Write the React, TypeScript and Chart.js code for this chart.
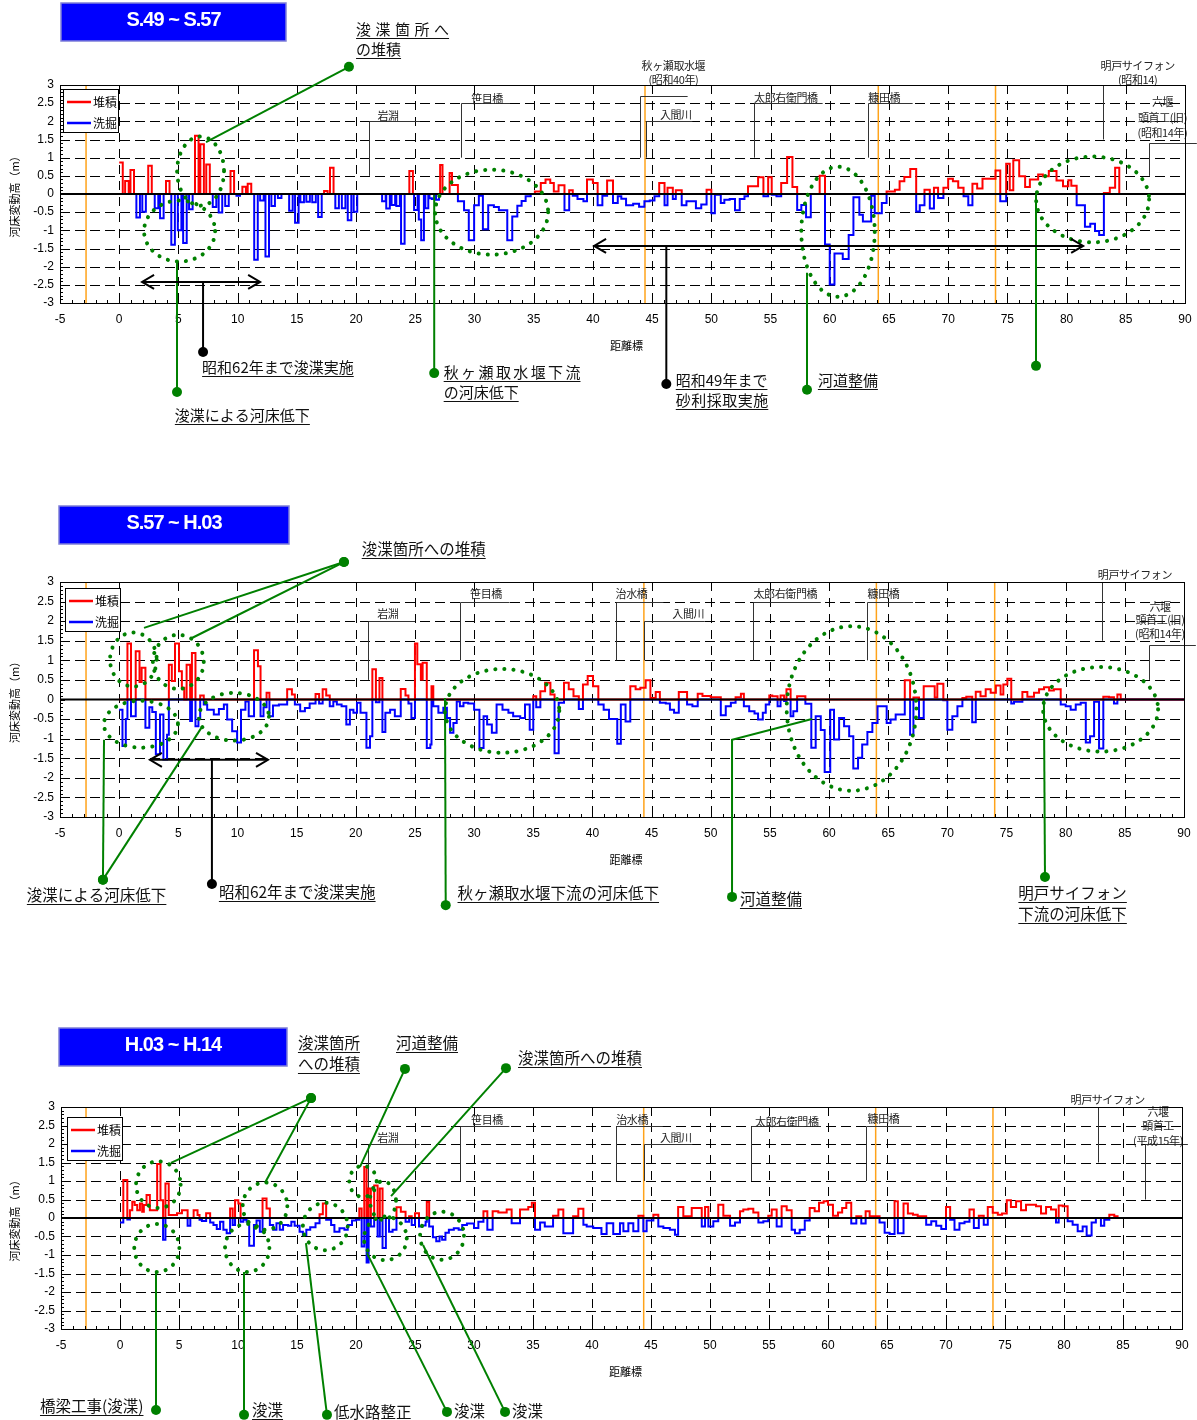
import React, { useEffect, useRef } from 'react';
import { Chart, registerables } from 'chart.js';

Chart.register(...registerables);

// ---------- axis / labels ----------
const X_TICKS = [-5, 0, 5, 10, 15, 20, 25, 30, 35, 40, 45, 50, 55, 60, 65, 70, 75, 80, 85, 90];
const Y_TICKS = [3, 2.5, 2, 1.5, 1, 0.5, 0, -0.5, -1, -1.5, -2, -2.5, -3];
const SERIES_NAMES = ['堆積', '洗掘'];
const PERIODS = ['S.49 ~ S.57', 'S.57 ~ H.03', 'H.03 ~ H.14'];
const X_TITLE = '距離標';
const Y_TITLE = '河床変動高（m）';

// ---------- Panel 1 (S.49 ~ S.57) : discrete bars 0-25 km ----------
const p1BarKm = [
  0.0, 0.5, 0.95, 1.45, 1.95, 2.45, 3.0, 3.45, 3.95, 4.4,
  4.95, 5.4, 5.9, 6.4, 6.85, 7.35, 7.9, 8.4, 8.95, 9.4,
  9.9, 10.4, 10.85, 11.4, 11.9, 12.35, 12.85, 13.4, 14.35, 14.85,
  15.3, 15.8, 16.3, 16.8, 17.3, 17.8, 18.25, 18.8, 19.3, 19.8,
  22.2, 22.55, 23.0, 23.4, 23.8, 24.5, 24.9,
];
const p1BarDz = [
  0.87, 0.36, 0.66, -0.65, -0.49, 0.78, -0.39, -0.67, 0.36, -1.4,
  -1.0, -1.35, -0.42, 1.6, 1.37, 0.81, -0.36, -0.51, -0.33, 0.63,
  -0.05, 0.2, 0.28, -1.81, -0.18, -1.72, -0.33, -0.11, -0.46, -0.79,
  -0.23, -0.21, -0.23, -0.63, 0.08, 0.72, -0.39, -0.39, -0.72, -0.49,
  -0.2, -0.4, -0.3, -0.33, -1.37, 0.63, -0.44,
];
// Panel 1 continuous profile (each value holds until the next km)
const p1Km = [
  25.3, 25.5, 25.73, 25.85, 26.1, 26.2, 26.4, 26.6, 26.75, 27.0,
  27.1, 27.3, 27.9, 28.1, 28.6, 29.12, 29.52, 29.97, 30.37, 30.71,
  31.16, 31.64, 32.06, 32.77, 33.19, 33.62, 33.98, 34.32, 34.75, 35.1,
  35.6, 36.0, 36.4, 36.7, 37.1, 37.6, 38.0, 38.3, 38.7, 39.2,
  39.5, 40.0, 40.4, 40.8, 41.2, 41.7, 42.1, 42.4, 42.8, 43.4,
  43.9, 44.35, 44.8, 45.2, 45.6, 46.05, 46.3, 46.75, 47.0, 47.5,
  47.9, 48.7, 49.15, 49.6, 50.0, 50.3, 50.8, 51.1, 51.55, 52.0,
  52.4, 52.8, 53.1, 53.95, 54.4, 54.8, 55.1, 55.5, 55.9, 56.4,
  56.85, 57.25, 57.6, 58.0, 58.4, 59.15, 59.6, 60.0, 60.4, 61.1,
  61.6, 62.0, 62.5, 62.8, 63.5, 63.8, 64.4, 64.8, 65.5, 65.9,
  66.3, 66.8, 67.3, 67.6, 68.0, 68.45, 68.8, 69.15, 69.6, 70.0,
  70.4, 70.85, 71.3, 71.7, 72.05, 72.45, 72.9, 74.0, 74.4, 74.9,
  75.2, 75.5, 76.0, 76.5, 76.9, 77.6, 78.0, 78.5, 79.15, 79.7,
  80.15, 80.4, 80.85, 81.55, 82.0, 82.4, 82.75, 83.15, 83.65, 84.1,
  84.45,
];
const p1Dz = [
  -0.7, -1.27, 0, -0.39, 0, -0.12, -0.14, 0, -0.16, 0,
  0.8, 0, 0.58, 0.25, -0.2, -0.45, -1.27, -0.31, -0.05, -0.97,
  -0.31, -0.36, -0.45, -1.27, -0.62, -0.32, -0.19, -0.06, 0, 0.07,
  0.3, 0.4, 0.3, 0.07, 0.24, -0.45, 0.1, -0.05, -0.14, -0.2,
  0.4, 0.3, -0.31, -0.05, 0.37, -0.25, -0.06, -0.13, -0.31, -0.27,
  -0.35, -0.2, -0.18, -0.06, 0.3, -0.31, 0.17, -0.14, 0.1, -0.31,
  -0.2, -0.39, -0.29, 0.12, -0.53, -0.02, -0.25, -0.16, -0.14, -0.45,
  -0.14, -0.06, 0.21, 0.46, -0.06, 0.46, -0.02, -0.06, 0.3, 1.02,
  0.19, -0.44, -0.3, -0.64, 0, 0.5, -1.39, -2.49, -1.64, -1.79,
  -1.13, -0.09, -0.57, -0.76, -0.05, -0.53, -0.25, 0.07, 0.12, 0.35,
  0.47, 0.69, -0.48, -0.31, 0.12, -0.4, 0.17, -0.11, 0.17, 0.42,
  0.35, 0.17, -0.06, -0.31, 0.28, 0.15, 0.42, 0.65, -0.2, 0.83,
  0.1, 0.93, 0.49, 0.19, 0.4, 0.54, 0.49, 0.63, 0.37, 0.21,
  0.38, 0.23, -0.31, -0.9, -0.82, -1.02, -1.13, 0.03, 0.17, 0.72,
  0,
];

// ---------- Panel 2 (S.57 ~ H.03) ----------
const p2Km = [
  0.0, 0.28, 0.56, 0.7, 1.0, 1.4, 1.72, 1.9, 2.22, 2.55,
  2.8, 3.1, 3.45, 3.74, 4.05, 4.2, 4.45, 4.72, 5.06, 5.3,
  5.5, 5.7, 6.0, 6.15, 6.45, 6.7, 6.85, 7.15, 7.44, 8.0,
  8.43, 8.85, 9.13, 9.55, 9.97, 10.3, 10.67, 10.95, 11.4, 11.73,
  11.95, 12.2, 12.46, 12.7, 13.0, 13.5, 14.2, 14.6, 14.85, 15.3,
  15.7, 16.1, 16.6, 16.9, 17.2, 17.5, 17.8, 18.1, 18.4, 18.8,
  19.2, 19.5, 19.8, 20.1, 20.4, 20.9, 21.2, 21.4, 21.7, 22.0,
  22.25, 22.5, 22.9, 23.3, 23.8, 24.2, 24.45, 24.7, 25.0, 25.2,
  25.5, 25.65, 26.0, 26.3, 26.4, 26.55, 26.98, 27.4, 27.7, 27.97,
  28.25, 28.53, 28.8, 29.1, 29.5, 30.0, 30.45, 30.8, 31.1, 31.5,
  31.9, 32.4, 32.9, 33.3, 33.9, 34.3, 34.7, 35.0, 35.25, 35.6,
  36.0, 36.45, 36.8, 37.15, 37.6, 38.0, 38.4, 38.85, 39.2, 39.6,
  40.05, 40.5, 40.95, 41.4, 42.1, 42.4, 42.8, 43.2, 43.65, 44.05,
  44.5, 44.9, 45.35, 45.7, 46.2, 46.55, 46.9, 47.3, 48.0, 48.45,
  48.9, 49.3, 50.0, 50.85, 51.27, 51.7, 52.1, 52.55, 52.8, 53.25,
  53.7, 54.0, 54.4, 54.65, 54.95, 55.2, 55.65, 55.9, 56.2, 56.4,
  56.75, 56.98, 57.3, 58.0, 58.5, 58.87, 59.3, 59.63, 60.1, 60.42,
  60.85, 61.27, 61.7, 62.05, 62.45, 62.8, 63.24, 63.66, 64.1, 64.87,
  65.2, 65.63, 66.4, 66.85, 67.13, 67.6, 68.0, 68.93, 69.15, 69.66,
  70.0, 70.42, 70.85, 71.27, 71.6, 72.1, 72.4, 72.8, 73.24, 73.66,
  74.1, 74.5, 74.73, 75.07, 75.4, 75.63, 76.34, 76.76, 77.32, 77.75,
  78.17, 78.6, 79.0, 79.58, 80.0, 80.42, 80.85, 81.27, 81.7, 82.06,
  82.4, 82.82, 83.18, 83.66, 84.08, 84.37, 84.65,
];
const p2Dz = [
  -0.26, -1.19, -0.5, 1.43, -0.43, 1.23, 0.45, 0.81, -0.72, -0.2,
  -0.32, -1.4, -0.38, -1.53, -0.9, 0.89, 0.47, 1.43, 0.72, 0.3,
  0, 0.89, -0.55, 1.19, -0.68, -0.47, 0.1, -0.13, -0.26, -0.38,
  -0.24, -0.13, -0.51, -0.81, -1.1, -0.26, -0.05, -0.43, 1.26, 0.85,
  -0.43, -0.2, 0.17, -0.43, -0.15, -0.13, 0.26, 0.13, -0.13, -0.3,
  -0.22, -0.1, 0.14, -0.1, 0.26, 0.1, -0.17, -0.05, -0.13, -0.17,
  -0.64, -0.26, -0.34, -0.08, -0.34, -1.23, -0.94, 0.77, -0.07, 0.55,
  -0.83, -0.34, -0.26, -0.43, 0.27, 0.1, -0.1, -0.47, 1.43, 0.9,
  0.51, 0.94, -1.24, -1.15, 0.34, -0.17, -0.34, -0.21, -0.47, -0.85,
  -0.6, -0.05, -0.17, -0.08, -0.1, -0.26, -1.24, -0.43, -0.64, -0.85,
  -0.13, -0.26, -0.34, -0.43, -0.47, -0.13, -0.77, 0.08, -0.2, 0.21,
  0.43, 0.13, -1.37, -0.08, 0.43, 0.26, 0.08, -0.24, 0.38, 0.6,
  0.34, -0.13, -0.26, -0.5, -1.13, -0.13, -0.56, 0.34, 0.26, 0.3,
  0.49, 0.04, 0.19, -0.08, -0.1, -0.26, -0.34, 0.19, -0.13, -0.17,
  0.15, 0.09, 0.06, -0.4, -0.17, -0.08, 0.06, 0.15, -0.17, -0.3,
  -0.36, -0.51, -0.34, -0.13, 0.1, 0.08, -0.17, 0.1, -0.04, 0.26,
  -0.43, -0.3, 0.08, -0.11, -1.23, -0.43, -0.78, -1.85, -0.26, -1.02,
  -0.47, -0.68, -0.94, -1.76, -1.49, -1.15, -0.83, -0.6, -0.17, -0.6,
  -0.51, -0.38, 0.49, -0.9, 0.05, -0.47, 0.34, 0.05, 0.4, -0.02,
  -0.77, -0.43, -0.17, 0.04, 0.07, -0.58, 0.2, 0.08, 0.26, 0.17,
  0.36, 0.13, 0.38, 0.53, -0.1, -0.06, 0.19, 0.07, 0.17, 0.26,
  0.31, 0.23, 0.26, -0.13, -0.17, -0.26, -0.13, -0.08, -1.1, -0.94,
  -0.06, -1.25, 0.07, 0.06, -0.1, 0.13, 0,
];

// ---------- Panel 3 (H.03 ~ H.14) ----------
const p3Km = [
  0.0, 0.28, 0.62, 0.84, 1.04, 1.24, 1.46, 1.69, 1.88, 2.02,
  2.25, 2.53, 3.15, 3.43, 3.65, 3.85, 4.13, 4.83, 5.25, 5.73,
  5.96, 6.24, 6.57, 6.74, 6.94, 7.3, 7.64, 7.92, 8.2, 8.48,
  8.76, 9.04, 9.33, 9.55, 9.75, 10.03, 10.22, 10.45, 10.73, 10.95,
  11.35, 11.57, 11.85, 12.08, 12.42, 12.7, 12.98, 13.26, 13.54, 13.82,
  14.24, 14.52, 14.8, 15.22, 15.5, 15.79, 16.12, 16.57, 16.91, 17.19,
  17.47, 17.89, 18.17, 18.6, 19.02, 19.3, 19.66, 20.0, 20.28, 20.48,
  20.7, 20.9, 21.07, 21.26, 21.54, 21.83, 22.02, 22.25, 22.53, 22.8,
  23.1, 23.43, 23.8, 24.2, 24.5, 24.72, 25.0, 25.34, 25.62, 25.9,
  26.0, 26.2, 26.52, 26.8, 27.08, 27.3, 27.58, 27.87, 28.29, 28.7,
  29.0, 29.4, 30.0, 30.37, 30.8, 31.13, 31.58, 32.06, 32.77, 33.19,
  33.9, 34.6, 34.9, 35.17, 35.6, 36.0, 36.7, 37.15, 37.57, 38.4,
  38.84, 39.27, 39.55, 40.1, 40.8, 41.24, 41.8, 42.37, 42.66, 43.08,
  43.5, 43.93, 44.35, 44.63, 45.2, 45.62, 46.05, 46.6, 47.03, 47.3,
  47.74, 48.45, 49.3, 49.58, 49.86, 50.28, 50.7, 51.13, 51.7, 52.12,
  52.54, 52.82, 53.25, 53.67, 54.1, 54.52, 54.94, 55.23, 55.65, 56.07,
  56.5, 56.92, 57.2, 57.6, 58.03, 58.45, 58.87, 59.24, 59.63, 60.0,
  60.42, 60.85, 61.2, 61.55, 61.97, 62.4, 62.82, 63.19, 63.53, 64.37,
  64.8, 65.22, 65.64, 65.92, 66.4, 66.77, 67.2, 67.6, 68.32, 68.75,
  69.17, 69.6, 70.0, 70.35, 70.72, 71.14, 71.57, 71.99, 72.36, 72.78,
  73.2, 73.54, 73.96, 74.39, 74.75, 75.15, 75.5, 75.94, 76.36, 76.78,
  77.63, 78.05, 78.48, 78.9, 79.32, 79.55, 79.89, 80.31, 80.73, 81.16,
  81.58, 81.92, 82.34, 82.7, 83.13, 83.41, 83.84, 84.26, 84.54,
];
const p3Dz = [
  -0.12, 1.03, -0.04, 0.21, 0.44, 0.35, 0.21, 0.39, 0.17, 0.35,
  0.62, 0.21, 1.46, 0.48, -0.59, 0.93, 0.08, 0.13, 0.21, -0.21,
  0, 0.21, 0.08, -0.05, -0.08, 0.13, -0.12, -0.19, -0.3, -0.1,
  -0.32, -0.41, 0.26, -0.19, 0.48, 0.39, -0.1, -0.05, -0.1, -0.75,
  -0.19, -0.07, -0.37, 0.53, 0.26, -0.19, -0.32, -0.14, -0.32, -0.19,
  -0.21, -0.1, -0.21, -0.37, -0.46, -0.32, -0.25, -0.14, 0.1, 0.39,
  -0.05, -0.19, -0.37, -0.28, -0.32, -0.19, -0.07, -0.05, 0.26, -0.77,
  1.38, -1.2, 0.8, -0.23, 0.88, -0.5, 0.8, -0.81, 0, -0.37,
  -0.32, 0.29, 0.17, -0.1, 0.05, -0.19, 0.13, -0.23, -0.2, -0.1,
  0.43, -0.23, -0.52, -0.63, -0.5, -0.59, -0.4, -0.32, -0.28, -0.32,
  -0.19, -0.15, -0.27, -0.1, 0.18, -0.32, 0.18, 0.15, 0.23, -0.14,
  0.23, 0.3, 0.41, -0.32, -0.12, -0.23, 0.06, 0.23, -0.41, 0.05,
  0.25, -0.18, -0.23, -0.27, -0.43, -0.14, -0.43, -0.14, -0.36, -0.14,
  -0.36, 0.06, -0.36, -0.07, 0.09, -0.23, -0.27, -0.32, -0.45, 0.3,
  0.05, 0.27, -0.23, 0.3, -0.23, -0.09, 0.36, 0.06, -0.21, -0.12,
  0.18, 0.23, 0.25, 0.15, -0.12, -0.09, 0.06, 0.23, -0.23, 0.32,
  0.21, -0.32, -0.41, -0.32, -0.07, 0.27, 0.18, 0.41, 0.45, 0.36,
  0.06, 0.15, 0.27, 0.41, -0.15, 0.05, -0.15, 0.18, 0.05, -0.12,
  -0.4, -0.43, 0.45, -0.41, 0.39, 0.12, 0.09, 0.05, -0.18, -0.09,
  -0.21, -0.3, 0.3, -0.05, -0.32, -0.14, -0.1, 0.23, -0.27, 0.06,
  -0.18, 0.3, 0.14, 0.09, 0.12, 0.48, 0.3, 0.45, 0.21, 0.36,
  0.32, 0.12, 0.3, 0.23, -0.12, 0.34, 0.32, -0.09, -0.18, -0.36,
  -0.23, -0.47, -0.12, 0, -0.21, -0.05, 0.09, 0.05, 0,
];

// ---------- styling constants ----------
const RED = '#ff0000';
const BLUE = '#0000ff';
const GREEN = '#008000';
const ORANGE = '#ffa31a';
const JP = '"Noto Sans CJK JP", "Noto Sans", sans-serif';
const LAT = '"Liberation Sans", Arial, "Noto Sans CJK JP", sans-serif';
const BAR_W = 0.3;
const X_END = 90;

function barsToSteps(km: number[], dz: number[]) {
  const k: number[] = [];
  const d: number[] = [];
  km.forEach((x, i) => {
    k.push(x, x + BAR_W);
    d.push(dz[i], 0);
  });
  return { k, d };
}

function splitSeries(km: number[], dz: number[]) {
  const red = km.map((x, i) => ({ x, y: Math.max(dz[i], 0) }));
  const blue = km.map((x, i) => ({ x, y: Math.min(dz[i], 0) }));
  red.push({ x: X_END, y: 0 });
  blue.push({ x: X_END, y: 0 });
  return { red, blue };
}

const p1Bars = barsToSteps(p1BarKm, p1BarDz);

// ---------- annotation layouts (data units: km / m) ----------
type Landmark = { km: number; y0: number; y1: number; end: number; tx: number; lines: [string, number][] };
type Label = [number, number, string, number];
type Leader = { pts: [number, number][]; color: string };

const PANELS: any[] = [
  {
    key: 'p1', top: 0, height: 440,
    pad: { left: 60, right: 12, top: 85, bottom: 137 },
    km: [...p1Bars.k, ...p1Km], dz: [...p1Bars.d, ...p1Dz],
    title: { x: 61, y: 3, w: 225, h: 38, text: PERIODS[0] },
    legend: { dx: 3, dy: 4 },
    orange: [-2.8, 44.4, 64.1, 74.0],
    landmarks: [
      { km: 21.1, y0: 0.5, y1: 2.0, end: 25.4, tx: 22.7, lines: [['岩淵', 2.14]] },
      { km: 28.85, y0: 1.0, y1: 2.5, end: 33.0, tx: 31.06, lines: [['笹目橋', 2.63]] },
      { km: 44.0, y0: 1.0, y1: 2.7, end: 48.0, tx: 46.8, lines: [['秋ヶ瀬取水堰', 3.52], ['(昭和40年)', 3.14]] },
      { km: 44.5, y0: 1.0, y1: 2.0, end: 48.4, tx: 47.0, lines: [['入間川', 2.18]] },
      { km: 53.6, y0: 1.0, y1: 2.5, end: 59.4, tx: 56.3, lines: [['太郎右衛門橋', 2.64]] },
      { km: 63.2, y0: 1.0, y1: 2.5, end: 67.0, tx: 64.6, lines: [['糠田橋', 2.64]] },
      { km: 83.1, y0: 1.5, y1: 3.0, end: 83.1, tx: 86.0, lines: [['明戸サイフォン', 3.52], ['(昭和14)', 3.14]] },
      { km: 87.0, y0: 0.5, y1: 1.4, end: 91.0, tx: 88.1, lines: [['六堰', 2.53], ['頭首工(旧)', 2.09], ['(昭和14年)', 1.68]] },
    ] as Landmark[],
    ellipses: [[6.87, 0.63, 1.98, 0.95], [5.1, -1.02, 3.0, 0.84], [31.45, -0.5, 4.77, 1.17], [60.7, -1.04, 3.1, 1.79], [82.2, -0.15, 4.77, 1.18]],
    leaders: [
      { pts: [[19.4, 3.5], [7.33, 1.43]], color: GREEN },
      { pts: [[4.88, -5.45], [4.88, -1.87]], color: GREEN },
      { pts: [[26.6, -4.93], [26.6, -0.03]], color: GREEN },
      { pts: [[58.08, -5.39], [58.08, -2.17]], color: GREEN },
      { pts: [[77.42, -4.73], [77.42, 0]], color: GREEN },
      { pts: [[7.08, -4.35], [7.08, -2.42]], color: '#000' },
      { pts: [[46.2, -5.23], [46.2, -1.43]], color: '#000' },
    ] as Leader[],
    arrows: [[1.93, 11.9, -2.42], [40.1, 81.4, -1.43]],
    labels: [
      [20.0, 4.54, '浚渫箇所へ', 4.5],
      [20.0, 3.99, 'の堆積', 0],
      [4.7, -6.08, '浚渫による河床低下', 0],
      [7.0, -4.76, '昭和62年まで浚渫実施', 0],
      [27.4, -4.9, '秋ヶ瀬取水堰下流', 2.4],
      [27.4, -5.45, 'の河床低下', 0],
      [47.0, -5.12, '昭和49年まで', 0],
      [47.0, -5.67, '砂利採取実施', 0.5],
      [59.0, -5.12, '河道整備', 0],
    ] as Label[],
    labelFont: 15,
  },
  {
    key: 'p2', top: 490, height: 440,
    pad: { left: 60, right: 13, top: 92, bottom: 113 },
    km: p2Km, dz: p2Dz,
    title: { x: 59, y: 16, w: 230, h: 38, text: PERIODS[1] },
    legend: { dx: 5, dy: 6 },
    orange: [-2.8, 44.35, 64.0, 74.0],
    landmarks: [
      { km: 21.0, y0: 0.5, y1: 2.0, end: 25.0, tx: 22.7, lines: [['岩淵', 2.18]] },
      { km: 28.8, y0: 1.0, y1: 2.5, end: 33.0, tx: 31.0, lines: [['笹目橋', 2.69]] },
      { km: 42.0, y0: 1.0, y1: 2.5, end: 46.0, tx: 43.3, lines: [['治水橋', 2.69]] },
      { km: 44.4, y0: 1.0, y1: 2.0, end: 49.5, tx: 48.1, lines: [['入間川', 2.18]] },
      { km: 53.6, y0: 1.0, y1: 2.5, end: 59.3, tx: 56.3, lines: [['太郎右衛門橋', 2.69]] },
      { km: 63.2, y0: 1.0, y1: 2.5, end: 67.1, tx: 64.6, lines: [['糠田橋', 2.69]] },
      { km: 83.05, y0: 1.5, y1: 3.0, end: 83.05, tx: 85.85, lines: [['明戸サイフォン', 3.18]] },
      { km: 87.0, y0: 0.5, y1: 1.4, end: 91.0, tx: 87.97, lines: [['六堰', 2.36], ['頭首工(旧)', 2.03], ['(昭和14年)', 1.67]] },
    ] as Landmark[],
    ellipses: [[1.2, 1.02, 1.97, 0.69], [5.0, 0.96, 2.15, 0.69], [1.84, -0.63, 3.13, 0.6], [9.7, -0.44, 2.96, 0.61], [32.37, -0.29, 4.83, 1.07], [61.9, -0.23, 5.48, 2.1], [82.95, -0.25, 4.86, 1.08]],
    leaders: [
      { pts: [[19.0, 3.51], [2.1, 1.83]], color: GREEN },
      { pts: [[19.0, 3.51], [6.15, 1.57]], color: GREEN },
      { pts: [[-1.37, -4.6], [-1.28, -1.03]], color: GREEN },
      { pts: [[-1.37, -4.6], [7.0, -0.7]], color: GREEN },
      { pts: [[27.6, -5.25], [27.54, 0.04]], color: GREEN },
      { pts: [[51.8, -5.04], [51.8, -1.03], [58.55, -0.5]], color: GREEN },
      { pts: [[78.25, -4.53], [78.16, 0]], color: GREEN },
      { pts: [[7.84, -4.71], [7.84, -1.54]], color: '#000' },
    ] as Leader[],
    arrows: [[2.6, 12.58, -1.54]],
    labels: [
      [20.5, 3.84, '浚渫箇所への堆積', 0],
      [-7.8, -4.99, '浚渫による河床低下', 0],
      [8.43, -4.91, '昭和62年まで浚渫実施', 0],
      [28.6, -4.94, '秋ヶ瀬取水堰下流の河床低下', 0],
      [52.47, -5.09, '河道整備', 0],
      [76.0, -4.94, '明戸サイフォン', 0],
      [76.0, -5.48, '下流の河床低下', 0],
    ] as Label[],
    labelFont: 15.5,
  },
  {
    key: 'p3', top: 1010, height: 410,
    pad: { left: 61, right: 15, top: 97, bottom: 91 },
    km: p3Km, dz: p3Dz,
    title: { x: 59, y: 18, w: 228, h: 38, text: PERIODS[2] },
    legend: { dx: 6, dy: 10 },
    orange: [-2.88, 44.38, 64.04, 73.98],
    landmarks: [
      { km: 21.0, y0: 0.5, y1: 2.0, end: 25.4, tx: 22.7, lines: [['岩淵', 2.16]] },
      { km: 28.8, y0: 1.0, y1: 2.5, end: 33.0, tx: 31.1, lines: [['笹目橋', 2.65]] },
      { km: 42.0, y0: 1.0, y1: 2.5, end: 46.0, tx: 43.4, lines: [['治水橋', 2.65]] },
      { km: 44.4, y0: 1.0, y1: 2.0, end: 48.5, tx: 47.1, lines: [['入間川', 2.16]] },
      { km: 53.5, y0: 1.0, y1: 2.5, end: 59.4, tx: 56.5, lines: [['太郎右衛門橋', 2.59]] },
      { km: 63.2, y0: 1.0, y1: 2.5, end: 67.1, tx: 64.7, lines: [['糠田橋', 2.68]] },
      { km: 82.9, y0: 1.5, y1: 3.0, end: 82.9, tx: 83.7, lines: [['明戸サイフォン', 3.19]] },
      { km: 86.9, y0: 0.5, y1: 2.0, end: 90.5, tx: 87.97, lines: [['六堰', 2.86], ['頭首工', 2.49], ['(平成15年)', 2.08]] },
    ] as Landmark[],
    ellipses: [[3.25, 0.9, 1.89, 0.63], [3.12, -0.81, 1.91, 0.65], [12.29, 0.32, 1.89, 0.64], [10.78, -0.81, 1.88, 0.65], [17.4, -0.23, 1.9, 0.64], [20.59, 0.99, 1.16, 0.42], [22.29, 0.47, 1.1, 0.52], [22.49, -0.55, 1.81, 0.59], [27.29, -0.48, 1.86, 0.65]],
    leaders: [
      { pts: [[16.19, 3.24], [4.32, 1.49]], color: GREEN },
      { pts: [[16.19, 3.24], [12.29, 0.95]], color: GREEN },
      { pts: [[24.15, 4.03], [20.34, 1.38]], color: GREEN },
      { pts: [[32.71, 4.05], [22.97, 0.59]], color: GREEN },
      { pts: [[3.05, -5.19], [3.05, -1.46]], color: GREEN },
      { pts: [[10.51, -5.32], [10.51, -1.46]], color: GREEN },
      { pts: [[17.54, -5.32], [15.76, -0.68]], color: GREEN },
      { pts: [[27.71, -5.24], [20.93, -0.95]], color: GREEN },
      { pts: [[32.63, -5.24], [25.68, -0.73]], color: GREEN },
    ] as Leader[],
    arrows: [],
    labels: [
      [15.08, 4.73, '浚渫箇所', 0],
      [15.08, 4.16, 'への堆積', 0],
      [23.39, 4.73, '河道整備', 0],
      [33.73, 4.32, '浚渫箇所への堆積', 0],
      [-6.78, -5.08, '橋梁工事(浚渫)', 0],
      [11.19, -5.19, '浚渫', 0],
      [18.14, -5.24, '低水路整正', 0],
      [28.31, -5.22, '浚渫', 0],
      [33.22, -5.22, '浚渫', 0],
    ] as Label[],
    labelFont: 15.5,
  },
];

function seg(ctx: CanvasRenderingContext2D, x0: number, y0: number, x1: number, y1: number) {
  ctx.beginPath();
  ctx.moveTo(x0, y0);
  ctx.lineTo(x1, y1);
  ctx.stroke();
}

function makeDeco(cfg: any) {
  return {
    id: 'deco_' + cfg.key,
    beforeDatasetsDraw(chart: any) {
      const { ctx, chartArea: a } = chart;
      const X = (v: number) => chart.scales.x.getPixelForValue(v);
      const Y = (v: number) => chart.scales.y.getPixelForValue(v);
      ctx.save();
      ctx.strokeStyle = '#000';
      ctx.lineWidth = 1;
      ctx.setLineDash([10, 5]);
      ctx.beginPath();
      for (const v of Y_TICKS) {
        if (v === 0 || v === 3 || v === -3) continue;
        const p = Math.round(Y(v)) + 0.5;
        ctx.moveTo(a.left, p);
        ctx.lineTo(a.right, p);
      }
      ctx.stroke();
      ctx.setLineDash([9, 7]);
      ctx.beginPath();
      for (const v of X_TICKS) {
        if (v <= -5 || v >= 90) continue;
        const p = Math.round(X(v)) + 0.5;
        ctx.moveTo(p, a.top);
        ctx.lineTo(p, a.bottom);
      }
      ctx.stroke();
      ctx.setLineDash([]);
      // orange reference lines
      ctx.strokeStyle = ORANGE;
      ctx.lineWidth = 1.5;
      for (const k of cfg.orange) {
        const p = X(k);
        seg(ctx, p, a.top, p, a.bottom);
      }
      // landmarks
      for (const L of cfg.landmarks as Landmark[]) {
        ctx.strokeStyle = '#333';
        ctx.lineWidth = 1;
        const px = Math.round(X(L.km)) + 0.5;
        const py = Math.round(Y(L.y1)) + 0.5;
        ctx.beginPath();
        ctx.moveTo(px, Y(L.y0));
        ctx.lineTo(px, py);
        ctx.lineTo(X(L.end), py);
        ctx.stroke();
        ctx.fillStyle = '#222';
        ctx.font = `11px ${JP}`;
        ctx.textAlign = 'center';
        ctx.textBaseline = 'middle';
        (ctx as any).letterSpacing = '-0.4px';
        for (const [t, v] of L.lines) ctx.fillText(t, X(L.tx), Y(v));
        (ctx as any).letterSpacing = '0px';
      }
      ctx.restore();
    },
    afterDatasetsDraw(chart: any) {
      const { ctx, chartArea: a } = chart;
      const X = (v: number) => chart.scales.x.getPixelForValue(v);
      const Y = (v: number) => chart.scales.y.getPixelForValue(v);
      ctx.save();
      // zero line
      ctx.strokeStyle = '#000';
      ctx.lineWidth = 2.2;
      const zy = Y(0);
      seg(ctx, a.left, zy, a.right, zy);
      // frame
      ctx.lineWidth = 1;
      ctx.strokeRect(a.left + 0.5, a.top + 0.5, a.right - a.left, a.bottom - a.top);
      // ticks
      ctx.beginPath();
      for (let k = -5; k <= 90; k++) {
        const px = Math.round(X(k)) + 0.5;
        const len = k % 5 === 0 ? 5 : 3;
        ctx.moveTo(px, a.bottom);
        ctx.lineTo(px, a.bottom - len);
        if (k % 5 === 0) {
          ctx.moveTo(px, a.top);
          ctx.lineTo(px, a.top + 4);
        }
      }
      for (let i = -30; i <= 30; i++) {
        const py = Math.round(Y(i / 10)) + 0.5;
        const len = i % 5 === 0 ? 5 : 3;
        ctx.moveTo(a.left, py);
        ctx.lineTo(a.left + len, py);
      }
      ctx.stroke();
      // tick labels
      ctx.fillStyle = '#000';
      ctx.font = `12px ${LAT}`;
      ctx.textBaseline = 'middle';
      ctx.textAlign = 'right';
      for (const v of Y_TICKS) ctx.fillText(String(v), a.left - 6, Y(v));
      ctx.textAlign = 'center';
      for (const v of X_TICKS) ctx.fillText(String(v), X(v), a.bottom + 17);
      // axis titles
      ctx.font = `11px ${JP}`;
      ctx.fillText(X_TITLE, (a.left + a.right) / 2 + 4, a.bottom + 43);
      ctx.save();
      ctx.translate(15, (a.top + a.bottom) / 2);
      ctx.rotate(-Math.PI / 2);
      ctx.fillText(Y_TITLE, 0, 0);
      ctx.restore();
      // legend
      const lx = a.left + cfg.legend.dx;
      const ly = a.top + cfg.legend.dy;
      ctx.fillStyle = '#fff';
      ctx.fillRect(lx, ly, 55, 43);
      ctx.strokeStyle = '#000';
      ctx.lineWidth = 1;
      ctx.strokeRect(lx + 0.5, ly + 0.5, 55, 43);
      ctx.lineWidth = 2.5;
      ctx.strokeStyle = RED;
      seg(ctx, lx + 4, ly + 13, lx + 28, ly + 13);
      ctx.strokeStyle = BLUE;
      seg(ctx, lx + 4, ly + 34, lx + 28, ly + 34);
      ctx.fillStyle = '#000';
      ctx.font = `12px ${JP}`;
      ctx.textAlign = 'left';
      ctx.fillText(SERIES_NAMES[0], lx + 30, ly + 13);
      ctx.fillText(SERIES_NAMES[1], lx + 30, ly + 34);
      // title box
      const t = cfg.title;
      ctx.fillStyle = '#0000ff';
      ctx.fillRect(t.x, t.y, t.w, t.h);
      ctx.strokeStyle = '#7f7fd8';
      ctx.lineWidth = 1.5;
      ctx.strokeRect(t.x, t.y, t.w, t.h);
      ctx.fillStyle = '#fff';
      ctx.font = `bold 20px ${LAT}`;
      ctx.textAlign = 'center';
      (ctx as any).letterSpacing = '-1px';
      ctx.fillText(t.text, t.x + t.w / 2, t.y + t.h / 2 - 2);
      (ctx as any).letterSpacing = '0px';
      // dotted ellipses
      ctx.strokeStyle = GREEN;
      ctx.lineWidth = 4;
      ctx.lineCap = 'round';
      ctx.setLineDash([0.1, 9]);
      for (const [cx, cy, rx, ry] of cfg.ellipses) {
        const px = X(cx);
        const py = Y(cy);
        ctx.beginPath();
        ctx.ellipse(px, py, Math.abs(X(cx + rx) - px), Math.abs(Y(cy + ry) - py), 0, 0, Math.PI * 2);
        ctx.stroke();
      }
      ctx.setLineDash([]);
      ctx.lineCap = 'butt';
      // leaders with dots
      for (const L of cfg.leaders as Leader[]) {
        ctx.strokeStyle = L.color;
        ctx.fillStyle = L.color;
        ctx.lineWidth = 2;
        ctx.beginPath();
        L.pts.forEach(([k, v], i) => (i === 0 ? ctx.moveTo(X(k), Y(v)) : ctx.lineTo(X(k), Y(v))));
        ctx.stroke();
        ctx.beginPath();
        ctx.arc(X(L.pts[0][0]), Y(L.pts[0][1]), 5, 0, Math.PI * 2);
        ctx.fill();
      }
      // double arrows
      ctx.strokeStyle = '#000';
      ctx.lineWidth = 2;
      for (const [k0, k1, v] of cfg.arrows) {
        const x0 = X(k0), x1 = X(k1), y = Y(v);
        seg(ctx, x0, y, x1, y);
        ctx.beginPath();
        ctx.moveTo(x0 + 12, y - 7);
        ctx.lineTo(x0, y);
        ctx.lineTo(x0 + 12, y + 7);
        ctx.moveTo(x1 - 12, y - 7);
        ctx.lineTo(x1, y);
        ctx.lineTo(x1 - 12, y + 7);
        ctx.stroke();
      }
      // labels with underline
      ctx.textAlign = 'left';
      ctx.textBaseline = 'middle';
      ctx.font = `${cfg.labelFont}px ${JP}`;
      for (const [k, v, text, ls] of cfg.labels as Label[]) {
        (ctx as any).letterSpacing = ls + 'px';
        const x = X(k), y = Y(v);
        ctx.fillStyle = '#111';
        ctx.fillText(text, x, y);
        const w = ctx.measureText(text).width - ls;
        ctx.strokeStyle = '#111';
        ctx.lineWidth = 1;
        const uy = Math.round(y + 9) + 0.5;
        seg(ctx, x, uy, x + w, uy);
      }
      (ctx as any).letterSpacing = '0px';
      ctx.restore();
    },
  };
}

function Panel({ cfg }: { cfg: any }) {
  const ref = useRef<HTMLCanvasElement>(null);
  useEffect(() => {
    const { red, blue } = splitSeries(cfg.km, cfg.dz);
    const chart = new Chart(ref.current as HTMLCanvasElement, {
      type: 'line',
      data: {
        datasets: [
          { label: SERIES_NAMES[0], data: red, borderColor: RED, borderWidth: 2, stepped: true, pointRadius: 0, fill: false },
          { label: SERIES_NAMES[1], data: blue, borderColor: BLUE, borderWidth: 2, stepped: true, pointRadius: 0, fill: false },
        ],
      },
      options: {
        animation: false,
        responsive: false,
        events: [],
        layout: { padding: cfg.pad },
        plugins: { legend: { display: false }, tooltip: { enabled: false } },
        scales: {
          x: { type: 'linear', min: -5, max: 90, display: false },
          y: { type: 'linear', min: -3, max: 3, display: false },
        },
      },
      plugins: [makeDeco(cfg)],
    } as any);
    return () => chart.destroy();
  }, [cfg]);
  return (
    <canvas
      ref={ref}
      width={1197}
      height={cfg.height}
      style={{ position: 'absolute', left: 0, top: cfg.top, display: 'block' }}
    />
  );
}

export default function App() {
  return (
    <div style={{ position: 'absolute', left: 0, top: 0, width: 1197, height: 1420, background: '#fff' }}>
      {PANELS.map((p) => (
        <Panel key={p.key} cfg={p} />
      ))}
    </div>
  );
}
